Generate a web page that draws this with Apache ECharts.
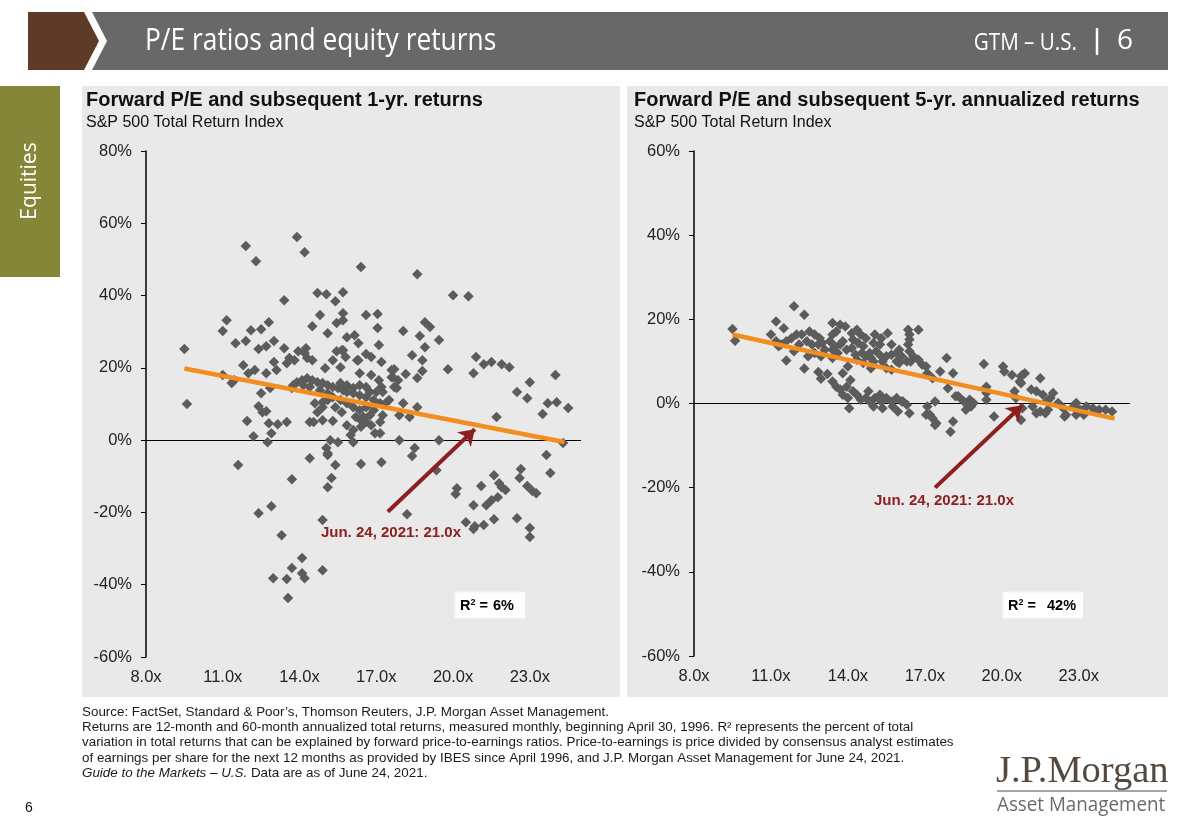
<!DOCTYPE html>
<html>
<head>
<meta charset="utf-8">
<script src="https://cdn.jsdelivr.net/npm/echarts@6/dist/echarts.min.js"></script>
<style>
html,body{margin:0;padding:0;background:#fff;}
#c{width:1188px;height:830px;}
</style>
</head>
<body>
<div id="c"></div>
<script>
// ---------- DATA ----------
// Forward P/E (x) and subsequent 1-yr. return in % (y)
const oneYearPoints = [
 [9.5,25.2],[9.6,10.0],[11.9,53.7],[12.3,49.5],[13.9,56.2],[14.2,52.0],[13.4,38.7],[11.15,33.2],[11.0,30.2],[12.1,30.4],
 [12.5,30.7],[12.8,32.6],[14.5,31.5],[14.8,34.6],[15.1,29.6],[14.7,40.7],[15.05,40.4],[15.4,38.4],[15.7,40.9],[15.7,35.1],
 [15.7,33.2],[15.45,32.4],[15.85,28.5],[16.15,29.0],[16.4,47.9],[18.6,45.9],[20.0,40.1],[20.6,39.8],[16.6,34.6],[17.05,34.9],
 [17.05,31.0],[18.05,30.2],[18.9,32.6],[19.1,31.3],[18.7,28.8],[19.45,27.7],[18.9,25.7],[17.1,26.3],[16.3,26.8],[15.7,24.9],
 [15.8,23.0],[16.3,22.1],[16.6,23.8],[16.8,23.0],[17.2,21.6],[18.4,23.5],[18.8,22.1],[18.8,19.1],[18.6,17.2],[18.15,18.3],
 [17.7,19.6],[17.6,17.4],[17.85,16.6],[17.8,14.4],[19.8,19.6],[20.9,23.0],[20.8,18.5],[21.2,21.0],[21.5,21.6],[21.9,21.0],
 [22.2,20.2],[23.0,16.0],[22.5,13.3],[22.9,11.6],[24.0,18.0],[23.7,10.2],[24.05,10.5],[24.5,8.9],[23.5,7.2],[21.7,6.4],
 [18.6,9.1],[18.05,10.2],
 [23.65,-4.1],[23.8,-9.1],[17.9,0.0],[19.45,0.0],[18.5,-2.2],[18.4,-4.4],[16.4,-6.6],[17.2,-6.1],[19.35,-8.3],[18.2,-20.5],
 [20.15,-13.3],[20.1,-14.9],[20.8,-18.0],[21.1,-12.7],[21.3,-18.0],[21.5,-16.6],[21.6,-9.7],[21.8,-11.9],[21.9,-13.0],[22.05,-13.8],
 [21.75,-15.8],[20.5,-22.7],[20.85,-23.8],[20.8,-24.6],[21.2,-23.5],[21.6,-21.9],[22.5,-21.6],[22.65,-8.0],[22.6,-10.5],[22.9,-12.7],
 [23.1,-14.1],[23.25,-14.7],[23.0,-24.3],[23.0,-26.8],[24.3,-0.8],[11.6,-6.9],[13.7,-10.8],[14.4,-5.0],[15.05,-2.2],[15.1,-4.1],
 [15.4,-6.9],[15.25,-10.5],[15.1,-13.0],[12.4,-20.2],[12.9,-18.3],[13.3,-26.3],[14.9,-22.1],[14.1,-32.6],[13.7,-35.4],[12.97,-38.2],
 [13.5,-38.4],[14.1,-36.8],[14.2,-38.2],[14.9,-36.0],[13.55,-43.7],
 [11.5,26.8],[11.9,27.4],[12.4,25.2],[12.7,26.0],[13.0,27.4],[13.4,25.4],[13.95,24.6],[14.25,25.4],[13.6,22.7],[13.5,21.3],
 [13.0,21.6],[13.1,19.4],[12.7,18.5],[12.25,19.4],[11.8,20.7],[12.0,18.5],[11.35,15.8],[11.45,16.6],[11.0,18.0],[12.5,13.0],
 [12.85,14.4],[12.4,9.4],[12.55,7.7],[12.7,8.0],[11.95,5.3],[12.2,1.1],[12.8,4.7],[13.15,4.4],[13.5,5.0],[12.9,1.9],
 [12.75,-0.6],[14.5,22.1],[15.0,19.9],[15.3,22.1],[15.45,24.6],[15.65,24.9],[15.6,20.2],[16.25,22.1],[16.35,18.5],[16.8,18.0],
 [17.1,16.6],[17.6,19.4],[17.7,14.7],[17.5,11.1],[17.9,6.9],[18.3,6.4],[15.2,0.0],[15.1,-3.6],[15.5,-0.6],[16.1,-0.6],
 [16.0,1.4],[16.1,2.8],[15.85,4.1],[16.4,3.7],[16.8,4.1],[16.95,1.9],[17.15,1.9],[14.4,5.0],[14.55,5.0],[14.9,5.5],
 [15.3,5.3],[16.5,6.4],[16.75,6.9],[17.25,6.9],[14.7,7.7],[14.6,10.2],[14.9,9.1],
 [13.9,16.0],[14.1,16.6],[14.3,17.1],[14.5,16.6],[14.7,16.0],[14.9,15.8],[15.1,15.2],[15.3,14.7],[15.5,14.4],[15.7,13.8],
 [15.85,13.3],[16.1,13.0],[16.35,12.4],[16.6,11.9],[16.9,11.1],[17.15,10.2],[14.8,13.8],[15.1,13.0],[15.3,11.9],[15.6,11.1],
 [15.85,10.2],[16.1,9.1],[16.35,8.3],[16.6,9.1],[16.9,8.3],[15.1,11.1],[14.9,10.5],[15.4,9.1],[15.65,7.7],[16.2,6.4],
 [16.4,5.5],[16.6,5.0],[17.15,5.0],[13.7,14.4],[13.75,15.2],[14.15,15.2],[14.4,14.7],[16.1,14.4],[16.35,15.2],[16.6,14.7],
 [15.85,15.2],[15.6,15.8],[16.75,13.3],[17.0,13.3],[17.2,14.7],[17.25,13.3],[17.4,10.5],[17.65,17.4],[14.2,24.1],[14.3,22.7],
 [13.8,22.1]
];
// Forward P/E (x) and subsequent 5-yr. annualized return in % (y)
const fiveYearPoints = [
 [9.5,17.7],[9.6,14.9],[11.9,23.1],[12.3,21.1],[11.2,19.5],[11.5,17.9],[11.0,16.4],[11.2,14.8],[11.4,14.0],[11.3,13.6],
 [11.6,14.8],[11.8,15.5],[12.0,16.4],[12.2,16.4],[12.1,14.0],[11.9,12.4],[11.6,10.2],[12.3,8.3],[12.5,17.1],[12.7,16.4],
 [12.9,15.5],[12.4,14.8],[12.6,14.0],[12.85,14.0],[13.0,14.4],[13.1,12.8],[12.7,12.0],[12.95,11.2],[12.45,11.2],[12.85,7.5],
 [13.2,7.0],[12.95,5.9],[13.4,19.1],[13.7,18.7],[13.9,18.3],[13.4,16.4],[13.55,17.1],[13.3,14.8],[13.5,13.6],[13.4,12.8],
 [13.7,14.0],[13.8,14.8],[13.6,12.0],[13.4,10.8],[13.95,12.8],[14.15,16.7],[14.35,17.5],[14.5,16.4],[14.7,15.5],[14.2,15.2],
 [14.4,14.4],[14.6,13.6],[14.15,13.2],[14.3,11.6],[14.55,12.0],[14.7,11.2],[14.85,12.0],[14.9,10.8],[15.05,16.4],[15.0,14.4],
 [15.25,14.0],[15.3,15.5],[15.55,16.7],[15.7,14.0],[15.1,12.4],[15.3,11.2],[15.5,11.2],[15.7,11.6],[15.9,12.0],[16.0,12.8],
 [16.1,11.2],[15.0,10.0],[14.9,8.4],[15.7,8.0],[16.35,17.5],[16.4,16.4],[16.75,17.5],[16.4,15.2],[16.35,14.0],[16.4,12.4],
 [16.55,11.2],[16.3,10.0],[16.75,10.4],[16.9,9.2],[17.05,8.8],[17.1,7.2],[17.3,6.0],[17.6,7.6],[17.85,10.8],[18.1,7.2],
 [17.9,3.6],[18.3,1.7],[18.5,0.6],[18.7,-0.7],[18.9,0.1],[19.3,9.4],[19.4,4.0],[19.4,0.9],[19.7,-3.1],[20.05,8.8],
 [20.1,7.6],[20.4,6.8],[20.75,6.4],[20.7,5.2],[20.9,7.2],[21.5,6.0],[21.15,3.3],[21.35,2.9],[21.6,2.1],[21.9,1.3],
 [21.75,0.5],[22.0,2.5],[20.5,2.9],[20.55,1.3],[21.2,-0.7],[21.5,-1.9],[21.8,-1.5],[22.2,0.1],[22.4,-1.1],[22.5,-2.7],
 [22.8,-0.7],[22.9,0.1],[23.05,-1.5],[23.3,-0.7],[23.55,-1.1],[23.8,-1.5],[24.05,-1.5],[24.3,-1.9],[23.2,-2.7],[22.9,-2.7],
 [23.7,-1.9],[20.75,-3.9],[20.8,-1.1],[21.35,-2.3],
 [13.4,5.2],[13.55,4.0],[13.7,3.3],[14.1,5.6],[13.95,4.0],[13.8,2.1],[14.0,1.3],[14.2,2.9],[14.35,2.1],[14.5,0.9],
 [14.7,1.3],[14.8,2.9],[14.85,0.5],[15.05,1.3],[15.25,2.1],[15.3,0.5],[15.5,1.3],[15.7,0.5],[15.9,1.3],[16.1,0.5],
 [16.3,-0.3],[14.05,-1.1],[15.0,-0.7],[15.75,-0.7],[16.4,-2.3],[17.1,-0.7],[17.2,-2.7],[17.4,0.5],[17.3,-3.5],[17.45,-4.7],
 [18.1,-4.3],[18.0,-6.7],[18.6,-1.5],[19.4,2.5],
 [14.35,10.4],[14.6,9.6],[15.35,10.0],[15.9,10.0],[16.0,9.6],[16.45,10.0],[15.5,8.4],[14.0,8.8],[13.8,7.2],[20.8,6.8],
 [20.75,4.8],[18.75,0.9],[18.8,-0.7],[18.2,1.7],[15.95,-1.9],[16.15,0.5],[15.35,-1.1],[21.7,-2.3],[22.45,-3.1],[17.05,-2.7],
 [17.4,-5.1]
];
// Regression lines (endpoints)
const trendOneYear = [[9.5,19.8],[24.35,-0.5]];
const trendFiveYear = [[9.5,16.4],[24.4,-3.6]];
// Arrows pointing at current P/E (Jun. 24, 2021: 21.0x)
const arrowOneYear = [[17.45,-19.8],[20.85,3.0]];
const arrowFiveYear = [[17.4,-20.0],[20.8,-0.4]];
// Axis settings
const xTicks = {min: 8, max: 25, interval: 3};
const yLeft = {min: -60, max: 80, interval: 20};
const yRight = {min: -60, max: 60, interval: 20};
const r2Values = ['6%', '42%'];
const annotationText = 'Jun. 24, 2021: 21.0x';

// ---------- CHART ----------
const SANS = '"Liberation Sans", Arial, Helvetica, sans-serif';
const COND = '"Open Sans", "Liberation Sans", sans-serif';
const chart = echarts.init(document.getElementById('c'), null, {renderer: 'canvas'});

function xAxisCfg(grid) {
  return {
    gridIndex: grid, type: 'value', min: xTicks.min, max: xTicks.max, interval: xTicks.interval,
    axisLine: {show: false}, axisTick: {show: false}, splitLine: {show: false},
    axisLabel: {
      margin: 12, fontSize: 16.5, color: '#222', fontFamily: SANS, showMaxLabel: false,
      formatter: v => (Math.abs((v - xTicks.min) % xTicks.interval) < 1e-6 ? v.toFixed(1) + 'x' : '')
    }
  };
}
function yAxisCfg(grid, cfg) {
  return {
    gridIndex: grid, type: 'value', min: cfg.min, max: cfg.max, interval: cfg.interval,
    axisLine: {show: true, lineStyle: {color: '#000', width: 1.5}},
    axisTick: {show: true, length: 5, lineStyle: {color: '#000', width: 1}},
    splitLine: {show: false},
    axisLabel: {margin: 14, fontSize: 16.5, color: '#222', fontFamily: SANS, formatter: '{value}%'}
  };
}
function scatterCfg(idx, data) {
  return {
    type: 'scatter', xAxisIndex: idx, yAxisIndex: idx, data: data,
    symbol: 'diamond', symbolSize: 10.5,
    itemStyle: {color: '#5c5c5c', opacity: 1}, z: 3, silent: true,
    markLine: {
      silent: true, symbol: 'none', animation: false,
      label: {show: false},
      lineStyle: {color: '#000', width: 1.2, type: 'solid'},
      data: [{yAxis: 0}], z: 2
    }
  };
}
function trendCfg(idx, data) {
  return {
    type: 'line', xAxisIndex: idx, yAxisIndex: idx, data: data, showSymbol: false, symbol: 'none',
    lineStyle: {color: '#f28d1f', width: 4.5}, z: 5, silent: true
  };
}
function arrowCfg(idx, data) {
  return {
    type: 'lines', coordinateSystem: 'cartesian2d', xAxisIndex: idx, yAxisIndex: idx,
    data: [{coords: data}], symbol: ['none', 'arrow'], symbolSize: 15,
    lineStyle: {color: '#8e1f1f', width: 4, opacity: 1, curveness: 0},
    z: 6, silent: true
  };
}

const footerLines = [
  'Source: FactSet, Standard & Poor\u2019s, Thomson Reuters, J.P. Morgan Asset Management.',
  'Returns are 12-month and 60-month annualized total returns, measured monthly, beginning April 30, 1996. R\u00b2 represents the percent of total',
  'variation in total returns that can be explained by forward price-to-earnings ratios. Price-to-earnings is price divided by consensus analyst estimates',
  'of earnings per share for the next 12 months as provided by IBES since April 1996, and J.P. Morgan Asset Management for June 24, 2021.'
];
const FOOT = '13.4px ' + SANS;

const r2Rich = {r: {font: 'bold 14.5px ' + SANS, fill: '#000'}, s: {font: 'bold 9px ' + SANS, fill: '#000', verticalAlign: 'top', padding: [0,0,6,0]}};

const graphics = [
  // header
  {type: 'polygon', shape: {points: [[28,12],[84,12],[99,41],[84,70],[28,70]]}, style: {fill: '#5d3b27'}, silent: true},
  {type: 'polygon', shape: {points: [[92,12],[1168,12],[1168,70],[92,70],[107,41]]}, style: {fill: '#686868'}, silent: true},
  {type: 'text', x: 145, y: 41, scaleX: 0.85, style: {text: 'P/E ratios and equity returns', fill: '#fff', font: '31px ' + COND, textVerticalAlign: 'middle'}, silent: true},
  {type: 'text', x: 1077, y: 43, scaleX: 0.86, style: {text: 'GTM \u2013 U.S.', fill: '#fff', font: '24px ' + COND, textAlign: 'right', textVerticalAlign: 'middle'}, silent: true},
  {type: 'line', shape: {x1: 1097, y1: 28, x2: 1097, y2: 55}, style: {stroke: '#fff', lineWidth: 2.5}, silent: true},
  {type: 'text', x: 1125, y: 41, style: {text: '6', fill: '#fff', font: '28px ' + COND, textAlign: 'center', textVerticalAlign: 'middle'}, silent: true},
  // sidebar
  {type: 'rect', shape: {x: 0, y: 86, width: 60, height: 191}, style: {fill: '#868638'}, silent: true},
  {type: 'text', x: 30, y: 181, rotation: Math.PI / 2, style: {text: 'Equities', fill: '#fff', font: '21px ' + COND, textAlign: 'center', textVerticalAlign: 'middle'}, silent: true},
  // panels
  {type: 'rect', z: -10, shape: {x: 82, y: 86, width: 538, height: 611}, style: {fill: '#e9e9e9'}, silent: true},
  {type: 'rect', z: -10, shape: {x: 627, y: 86, width: 541, height: 611}, style: {fill: '#e9e9e9'}, silent: true},
  // panel titles
  {type: 'text', x: 86, y: 100, style: {text: 'Forward P/E and subsequent 1-yr. returns', fill: '#111', font: 'bold 20px ' + SANS, textVerticalAlign: 'middle'}, silent: true},
  {type: 'text', x: 86, y: 123, style: {text: 'S&P 500 Total Return Index', fill: '#111', font: '16px ' + SANS, textVerticalAlign: 'middle'}, silent: true},
  {type: 'text', x: 634, y: 100, style: {text: 'Forward P/E and subsequent 5-yr. annualized returns', fill: '#111', font: 'bold 20px ' + SANS, textVerticalAlign: 'middle'}, silent: true},
  {type: 'text', x: 634, y: 123, style: {text: 'S&P 500 Total Return Index', fill: '#111', font: '16px ' + SANS, textVerticalAlign: 'middle'}, silent: true},
  // annotations
  {type: 'text', x: 391, y: 533, z: 10, style: {text: annotationText, fill: '#8e2020', font: 'bold 15px ' + SANS, textAlign: 'center', textVerticalAlign: 'middle'}, silent: true},
  {type: 'text', x: 944, y: 501, z: 10, style: {text: annotationText, fill: '#8e2020', font: 'bold 15px ' + SANS, textAlign: 'center', textVerticalAlign: 'middle'}, silent: true},
  // R2 boxes
  {type: 'rect', z: 10, shape: {x: 455, y: 592, width: 70, height: 26}, style: {fill: '#fff', stroke: '#f4f4f4'}, silent: true},
  {type: 'text', z: 11, x: 460, y: 606, style: {text: '{r|R}{s|2}{r| =}', rich: r2Rich, textVerticalAlign: 'middle'}, silent: true},
  {type: 'text', z: 11, x: 493, y: 606, style: {text: r2Values[0], font: 'bold 14.5px ' + SANS, fill: '#000', textVerticalAlign: 'middle'}, silent: true},
  {type: 'rect', z: 10, shape: {x: 1003, y: 592, width: 80, height: 26}, style: {fill: '#fff', stroke: '#f4f4f4'}, silent: true},
  {type: 'text', z: 11, x: 1008, y: 606, style: {text: '{r|R}{s|2}{r| =}', rich: r2Rich, textVerticalAlign: 'middle'}, silent: true},
  {type: 'text', z: 11, x: 1047, y: 606, style: {text: r2Values[1], font: 'bold 14.5px ' + SANS, fill: '#000', textVerticalAlign: 'middle'}, silent: true},
  // page number
  {type: 'text', x: 25, y: 808, style: {text: '6', fill: '#111', font: '14px ' + SANS, textVerticalAlign: 'middle'}, silent: true},
  // logo
  {type: 'text', x: 996, y: 772, style: {text: 'J.P.Morgan', fill: '#55493f', font: '38.5px "Liberation Serif", "Times New Roman", serif', textVerticalAlign: 'middle'}, silent: true},
  {type: 'line', shape: {x1: 997, y1: 791, x2: 1167, y2: 791}, style: {stroke: '#8a8a8a', lineWidth: 1.5}, silent: true},
  {type: 'text', x: 997, y: 805, scaleX: 0.94, style: {text: 'Asset Management', fill: '#6a6a6a', font: '20px ' + COND, textVerticalAlign: 'middle'}, silent: true}
];
footerLines.forEach((t, i) => {
  graphics.push({type: 'text', x: 82, y: 712 + i * 15.3, style: {text: t, fill: '#1a1a1a', font: FOOT, textVerticalAlign: 'middle'}, silent: true});
});
graphics.push({type: 'text', x: 82, y: 712 + 4 * 15.3, style: {
  text: '{i|Guide to the Markets \u2013 U.S.}{n| Data are as of June 24, 2021.}',
  rich: {i: {font: 'italic ' + FOOT, fill: '#1a1a1a'}, n: {font: FOOT, fill: '#1a1a1a'}},
  textVerticalAlign: 'middle'}, silent: true});

const option = {
  animation: false,
  backgroundColor: '#ffffff',
  grid: [
    {left: 146, top: 151, width: 435, height: 506},
    {left: 694, top: 151, width: 436, height: 505}
  ],
  xAxis: [xAxisCfg(0), xAxisCfg(1)],
  yAxis: [yAxisCfg(0, yLeft), yAxisCfg(1, yRight)],
  series: [
    scatterCfg(0, oneYearPoints), trendCfg(0, trendOneYear), arrowCfg(0, arrowOneYear),
    scatterCfg(1, fiveYearPoints), trendCfg(1, trendFiveYear), arrowCfg(1, arrowFiveYear)
  ],
  graphic: {elements: graphics}
};
chart.setOption(option);
</script>
</body>
</html>
